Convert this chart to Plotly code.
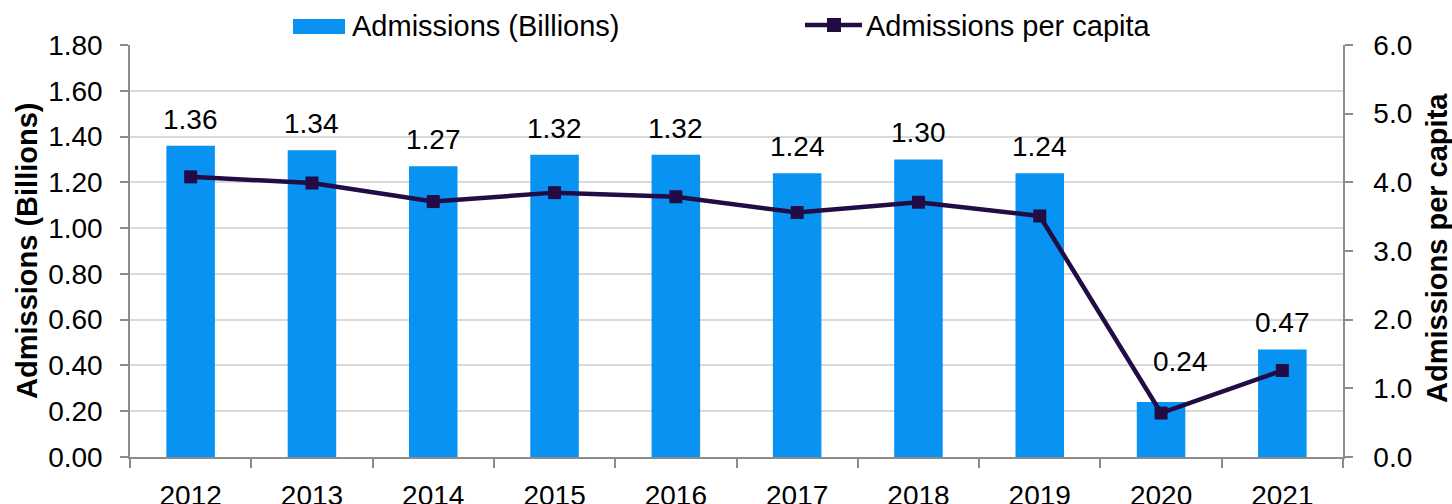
import plotly.graph_objects as go

# Annual cinema admissions and admissions per person
years = ["2012", "2013", "2014", "2015", "2016", "2017", "2018", "2019", "2020", "2021"]
admissions_bn = [1.36, 1.34, 1.27, 1.32, 1.32, 1.24, 1.30, 1.24, 0.24, 0.47]
per_capita = [4.08, 3.99, 3.72, 3.85, 3.79, 3.56, 3.71, 3.51, 0.64, 1.26]

bar_name = "Admissions (Billions)"
line_name = "Admissions per capita"

BAR_COLOR = "#0892F2"
LINE_COLOR = "#220C46"
GRID_COLOR = "#D9D9D9"
AXIS_COLOR = "#8C8C8C"
FONT = "Liberation Sans, Arial, sans-serif"
FS = 28

# value labels that are nudged off the line (pixels: dx, dy)
label_nudge = {"2020": (19, 14)}

fig = go.Figure()
fig.add_trace(go.Bar(
    x=years, y=admissions_bn, name=bar_name,
    marker=dict(color=BAR_COLOR, line=dict(width=0)),
    showlegend=False, yaxis="y",
))
fig.add_trace(go.Scatter(
    x=years, y=per_capita, name=line_name, mode="lines+markers",
    line=dict(color=LINE_COLOR, width=4.5),
    marker=dict(symbol="square", size=13, color=LINE_COLOR),
    showlegend=False, yaxis="y2",
))

annotations = []
for i, (yr, v) in enumerate(zip(years, admissions_bn)):
    dx, dy = label_nudge.get(yr, (0, 0))
    # category axis: position by index so numeric-looking names are not read as indices
    annotations.append(dict(
        x=i, y=v, xref="x", yref="y", text=f"{v:.2f}", showarrow=False,
        xanchor="center", yanchor="bottom", yshift=9 + dy, xshift=dx,
        font=dict(family=FONT, size=FS, color="black"),
    ))

# axis titles
annotations.append(dict(
    x=0, y=0.5, xref="paper", yref="paper", xshift=-103, text="<b>Admissions (Billions)</b>",
    textangle=-90, showarrow=False, xanchor="center", yanchor="middle",
    font=dict(family=FONT, size=29, color="black"),
))
annotations.append(dict(
    x=1, y=0.5, xref="paper", yref="paper", xshift=94, yshift=3, text="<b>Admissions per capita</b>",
    textangle=-90, showarrow=False, xanchor="center", yanchor="middle",
    font=dict(family=FONT, size=29, color="black"),
))

# legend entries drawn above the plot area
annotations.append(dict(
    x=0, y=1, xref="paper", yref="paper", xshift=220, yshift=19, text=bar_name,
    showarrow=False, xanchor="left", yanchor="middle",
    font=dict(family=FONT, size=29, color="black"),
))
annotations.append(dict(
    x=0, y=1, xref="paper", yref="paper", xshift=734, yshift=19, text=line_name,
    showarrow=False, xanchor="left", yanchor="middle",
    font=dict(family=FONT, size=29, color="black"),
))

shapes = [
    dict(type="rect", xref="paper", yref="paper", xsizemode="pixel", ysizemode="pixel",
         xanchor=0, yanchor=1, x0=163, x1=215, y0=11, y1=26,
         fillcolor=BAR_COLOR, line=dict(width=0)),
    dict(type="line", xref="paper", yref="paper", xsizemode="pixel", ysizemode="pixel",
         xanchor=0, yanchor=1, x0=675, x1=732, y0=20, y1=20,
         line=dict(color=LINE_COLOR, width=4.5)),
    dict(type="rect", xref="paper", yref="paper", xsizemode="pixel", ysizemode="pixel",
         xanchor=0, yanchor=1, x0=697, x1=711, y0=13, y1=27,
         fillcolor=LINE_COLOR, line=dict(width=0)),
]

fig.update_layout(
    width=1452, height=504,
    margin=dict(l=130, r=109, t=45, b=47, autoexpand=False),
    paper_bgcolor="white", plot_bgcolor="white",
    font=dict(family=FONT, size=FS, color="black"),
    bargap=0.6,
    showlegend=False,
    annotations=annotations,
    shapes=shapes,
    xaxis=dict(
        type="category", range=[-0.5, 9.5], tickson="boundaries",
        ticks="outside", ticklen=9, tickwidth=1.5, tickcolor=AXIS_COLOR,
        showline=True, linecolor=AXIS_COLOR, linewidth=1.5,
        showgrid=False, tickfont=dict(size=FS), ticklabelstandoff=13,
    ),
    yaxis=dict(
        range=[0, 1.8], dtick=0.2, tick0=0, tickformat=".2f",
        showgrid=True, gridcolor=GRID_COLOR, gridwidth=1.5, zeroline=False,
        ticks="outside", ticklen=8, tickwidth=1.5, tickcolor=AXIS_COLOR,
        showline=True, linecolor=AXIS_COLOR, linewidth=1.5,
        tickfont=dict(size=FS), ticklabelstandoff=12,
    ),
    yaxis2=dict(
        range=[0, 6], dtick=1, tick0=0, tickformat=".1f",
        overlaying="y", side="right", showgrid=False, zeroline=False,
        ticks="outside", ticklen=8, tickwidth=1.5, tickcolor=AXIS_COLOR,
        showline=True, linecolor=AXIS_COLOR, linewidth=1.5,
        tickfont=dict(size=FS), ticklabelstandoff=15,
    ),
)

fig.write_html("out.html")
